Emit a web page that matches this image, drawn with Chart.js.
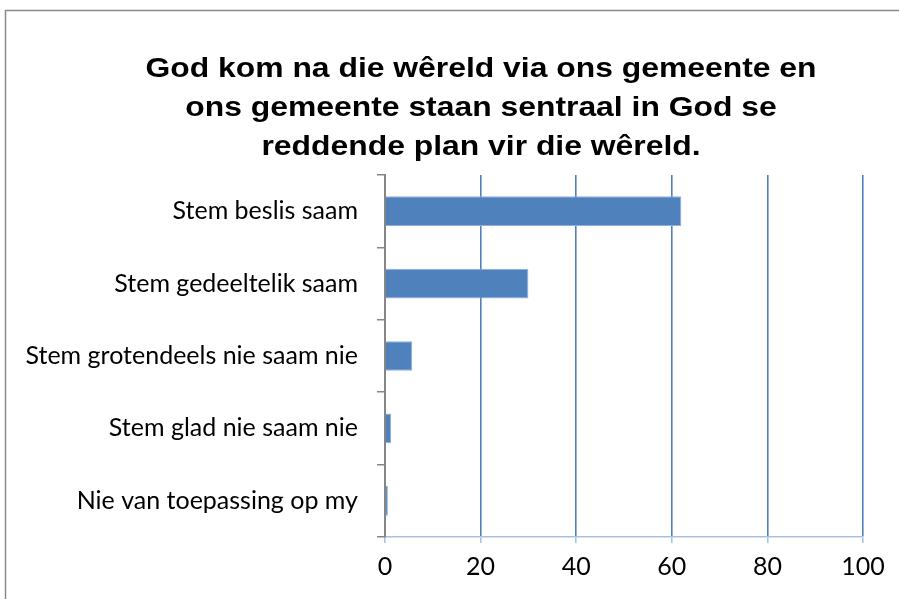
<!DOCTYPE html>
<html>
<head>
<meta charset="utf-8">
<script src="https://cdn.jsdelivr.net/npm/chart.js@4.4.0/dist/chart.umd.min.js"></script>
<style>
  html, body { margin: 0; padding: 0; background: #fff; overflow: hidden; }
  #wrap { width: 899px; height: 599px; position: relative; }
</style>
</head>
<body>
<div id="wrap"><canvas id="myChart" width="899" height="599"></canvas></div>
<script>
var titleLines = ["God kom na die wêreld via ons gemeente en", "ons gemeente staan sentraal in God se", "reddende plan vir die wêreld."];
var categories = ["Stem beslis saam", "Stem gedeeltelik saam", "Stem grotendeels nie saam nie", "Stem glad nie saam nie", "Nie van toepassing op my"];
var values = [62, 30, 5.7, 1.3, 0.6];
var xTicks = [0, 20, 40, 60, 80, 100];

// frame and title drawn by hand, the title is a bit stretched and off-centre like the original
const framePlugin = {
  id: "frame",
  beforeDraw(chart) {
    const ctx = chart.ctx;
    ctx.save();
    ctx.fillStyle = "#fff";
    ctx.fillRect(0, 0, chart.width, chart.height);
    ctx.strokeStyle = "#898989";
    ctx.lineWidth = 1.5;
    ctx.strokeRect(5.5, 10.5, 1000, 1000);
    ctx.fillStyle = "#000";
    ctx.font = "bold 27px 'Liberation Sans', Arial, sans-serif";
    ctx.textAlign = "center";
    ctx.textBaseline = "alphabetic";
    const sx = 1.18;
    ctx.scale(sx, 1);
    titleLines.forEach((t, i) => {
      ctx.fillText(t, 481 / sx, 77 + i * 39);
    });
    ctx.restore();
  }
};

new Chart("myChart", {
  type: "bar",
  data: {
    labels: categories,
    datasets: [{
      data: values,
      backgroundColor: "#4f81bd",
      borderColor: "#8fb0d8",
      borderWidth: 1,
      barPercentage: 0.41,
      categoryPercentage: 1
    }]
  },
  options: {
    indexAxis: "y",
    responsive: false,
    animation: false,
    layout: { padding: { top: 175, right: 36, bottom: 0, left: 0 } },
    plugins: {
      legend: { display: false },
      title: { display: false },
      tooltip: { enabled: false }
    },
    scales: {
      x: {
        min: 0,
        max: 100,
        afterBuildTicks: (scale) => { scale.ticks = xTicks.map(v => ({ value: v })); },
        afterFit: (scale) => { scale.height = 62; },
        grid: { color: "#4f81bd", lineWidth: 1.6, tickLength: 6, tickColor: "#a9c1e0" },
        border: { color: "#a9c1e0", width: 1.5 },
        ticks: {
          color: "#000",
          padding: 9,
          font: { family: "Lato, 'Noto Sans', sans-serif", size: 25 }
        }
      },
      y: {
        afterFit: (scale) => { scale.width = 385; },
        grid: { drawOnChartArea: false, tickLength: 8, color: "#868686", lineWidth: 1.5 },
        border: { color: "#868686", width: 2 },
        ticks: {
          color: "#000",
          padding: 19,
          font: { family: "Lato, 'Noto Sans', sans-serif", size: 25 }
        }
      }
    }
  },
  plugins: [framePlugin]
});
</script>
</body>
</html>
